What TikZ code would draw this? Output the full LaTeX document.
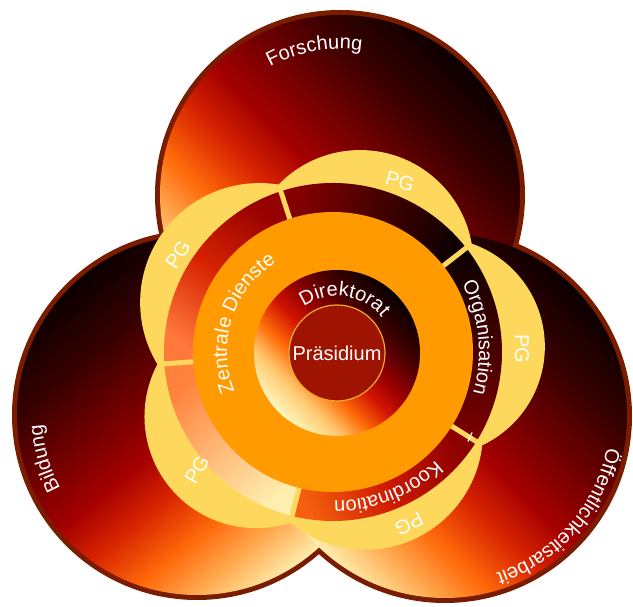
\documentclass[tikz,border=0pt]{standalone}
\usepackage{fontspec}
\setmainfont{Liberation Sans}
\usetikzlibrary{decorations.text}
\definecolor{rimcol}{RGB}{122,28,0}
\definecolor{lobecol}{RGB}{253,216,92}
\definecolor{ringorange}{RGB}{255,154,0}
\definecolor{praescol}{RGB}{158,20,0}
\definecolor{praesrim}{RGB}{240,170,50}
\definecolor{sAdark}{RGB}{15,0,0}
\definecolor{sAmid}{RGB}{70,0,0}
\definecolor{sAlight}{RGB}{135,0,0}
\definecolor{sBdark}{RGB}{12,0,0}
\definecolor{sBlight}{RGB}{125,0,0}
\definecolor{sCdark}{RGB}{140,0,0}
\definecolor{sCmid}{RGB}{205,25,0}
\definecolor{sClight}{RGB}{245,95,15}
\definecolor{sDdark}{RGB}{255,130,60}
\definecolor{sDmid}{RGB}{255,185,120}
\definecolor{sDlight}{RGB}{255,238,175}
\definecolor{sEdark}{RGB}{150,0,0}
\definecolor{sEmid}{RGB}{215,35,0}
\definecolor{sElight}{RGB}{255,120,60}
\pgfdeclareverticalshading{hot}{100bp}{rgb(0bp)=(1,0.925,0.667); rgb(25bp)=(1,0.925,0.667); rgb(31bp)=(1,0.667,0.314); rgb(37bp)=(1,0.412,0.039); rgb(44bp)=(0.843,0.137,0); rgb(50bp)=(0.647,0,0); rgb(58bp)=(0.431,0,0); rgb(66bp)=(0.216,0,0); rgb(75bp)=(0.047,0,0); rgb(100bp)=(0.047,0,0)}
\pgfdeclareverticalshading{dirshade}{100bp}{rgb(0bp)=(1,0.96,0.745); rgb(25bp)=(1,0.96,0.745); rgb(33bp)=(1,0.784,0.431); rgb(40bp)=(1,0.431,0.039); rgb(48bp)=(0.824,0.078,0); rgb(55bp)=(0.588,0,0); rgb(64bp)=(0.275,0,0); rgb(75bp)=(0.031,0,0); rgb(100bp)=(0.031,0,0)}
\begin{document}
\begin{tikzpicture}[x=1pt,y=1pt,
  rim/.style={draw=rimcol, line width=6pt},
  lbl/.style={text=white, font=\fontsize{20}{24}\selectfont, inner sep=0pt},
  curvelbl/.style={decorate, decoration={text along path, text align=center, text color=white, text={|\fontsize{20}{24}\selectfont|#1}}},
  sep/.style={draw=lobecol, line width=5pt}]
\useasboundingbox (0,0) rectangle (633,607);
\coordinate (T) at (340,412);
\coordinate (L) at (197,192);
\coordinate (R) at (445,191);
\coordinate (C) at (333,255);
\coordinate (D) at (337,254);
% big circles: rims, then fills
\draw[rim] (T) circle[radius=182];
\draw[rim] (L) circle[radius=182];
\draw[rim] (R) circle[radius=184];
\shade[shading=hot, shading angle=-45] (T) circle[radius=180];
\shade[shading=hot, shading angle=40] (L) circle[radius=180];
\shade[shading=hot, shading angle=-45] (R) circle[radius=182];
% yellow lobes
\foreach \angA/\angB/\apx in {38/108/206, 108/184/208, 184/256/212, 256/328/204, 328/398/212}{
  \pgfmathsetmacro\hh{(\angB-\angA)/2}
  \pgfmathsetmacro\mm{(\angA+\angB)/2}
  \pgfmathsetmacro\rr{176*cos(\hh)}
  \pgfmathsetmacro\cc{((\apx-176)/10)*((\apx+176)/10)*50/(\apx-\rr)}
  \pgfmathsetmacro\lrad{\apx-\cc}
  \fill[lobecol] ([shift={(\mm:\cc)}]C) circle[radius=\lrad];
}
% ring segments
\shade[top color=sAdark, bottom color=sAlight, middle color=sAmid, shading angle=-107]
  ([shift={(38:169)}]C) arc[start angle=38,end angle=108,radius=169] -- ([shift={(108:135)}]C) arc[start angle=108,end angle=38,radius=135] -- cycle;
\shade[top color=sEdark, bottom color=sElight, middle color=sEmid, shading angle=-34]
  ([shift={(108:169)}]C) arc[start angle=108,end angle=184,radius=169] -- ([shift={(184:135)}]C) arc[start angle=184,end angle=108,radius=135] -- cycle;
\shade[top color=sDdark, bottom color=sDlight, middle color=sDmid, shading angle=40]
  ([shift={(184:169)}]C) arc[start angle=184,end angle=256,radius=169] -- ([shift={(256:135)}]C) arc[start angle=256,end angle=184,radius=135] -- cycle;
\shade[top color=sCdark, bottom color=sClight, middle color=sCmid, shading angle=-68]
  ([shift={(256:169)}]C) arc[start angle=256,end angle=328,radius=169] -- ([shift={(328:135)}]C) arc[start angle=328,end angle=256,radius=135] -- cycle;
\shade[top color=sBdark, bottom color=sBlight, shading angle=3]
  ([shift={(328:169)}]C) arc[start angle=328,end angle=398,radius=169] -- ([shift={(398:135)}]C) arc[start angle=398,end angle=328,radius=135] -- cycle;
% separators
\foreach \s in {38,108,184,256,328}
  \draw[sep] ([shift={(\s:136)}]C) -- ([shift={(\s:175)}]C);
% orange ring, Direktorat, Praesidium
\fill[ringorange] (C) circle[radius=140];
\shade[shading=dirshade, shading angle=-45] (D) circle[radius=83];
\filldraw[fill=praescol, draw=praesrim, line width=1.2pt] (D) circle[radius=48];
% curved labels
\path[curvelbl=Forschung] ([shift={(160:146)}]T) arc[start angle=160, end angle=40, radius=146];
\path[curvelbl=Bildung] ([shift={(256:155)}]L) arc[start angle=256, end angle=136, radius=155];
\path[curvelbl=Öffentlichkeitsarbeit] ([shift={(38.5:165)}]R) arc[start angle=38.5, end angle=-121.5, radius=165];
\path[curvelbl=Zentrale Dienste] ([shift={(252:106)}]C) arc[start angle=252, end angle=72, radius=106];
\path[curvelbl=Direktorat] ([shift={(172:57)}]D) arc[start angle=172, end angle=-8, radius=57];
\path[curvelbl=Organisation] ([shift={(70:146)}]C) arc[start angle=70, end angle=-58.6, radius=146];
\path[curvelbl=Koordination] ([shift={(-8:149)}]C) arc[start angle=-8, end angle=-128, radius=149];
% straight labels
\node[lbl, rotate=-18] (pg1) at (400,426) {PG};
\node[lbl, rotate=57] (pg2) at (178,352) {PG};
\node[lbl, rotate=60] (pg3) at (197,137) {PG};
\node[lbl, rotate=-155] (pg4) at (409,83) {PG};
\node[lbl, rotate=-90] (pg5) at (522,258) {PG};
\node[lbl] (praes) at (D) {Präsidium};
% small white tick
\coordinate (tick) at (470,170);
\draw[white, line width=1.2pt] ([shift={(65:-5)}]tick) -- ([shift={(65:5)}]tick);
\end{tikzpicture}
\end{document}
